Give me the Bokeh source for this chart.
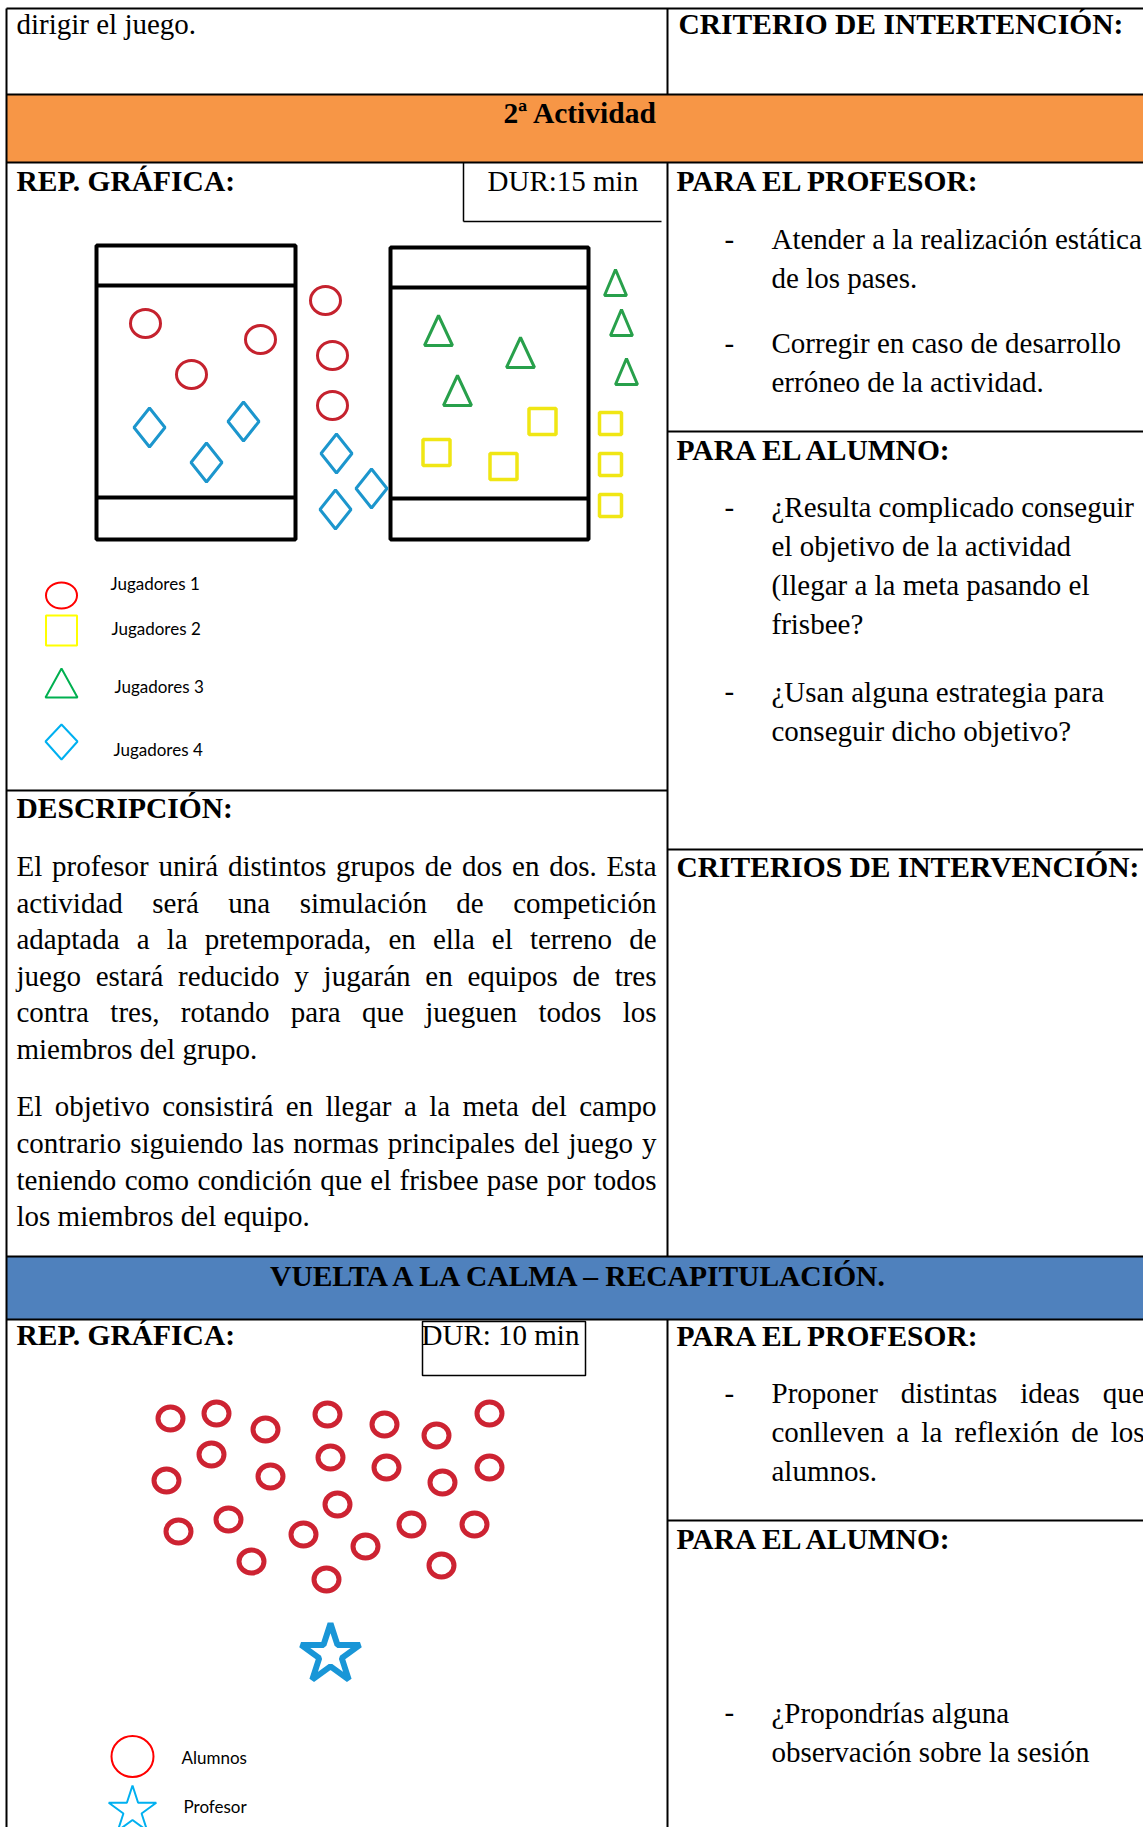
from bokeh.plotting import figure
from bokeh.models import Range1d
from bokeh.core.properties import value
from bokeh.embed import file_html
from bokeh.resources import INLINE

SERIF = "Liberation Serif"
SANS = "Lato"
FS = 29
FS_BOLD = 29.5

# ---------------- texts ----------------
top_left_text = "dirigir el juego."
top_right_title = "CRITERIO DE INTERTENCIÓN:"
band1_title = "2ª Actividad"
band2_title = "VUELTA A LA CALMA – RECAPITULACIÓN."
rep_title = "REP. GRÁFICA:"
dur1_text = "DUR:15 min"
dur2_text = "DUR: 10 min"
prof_title = "PARA EL PROFESOR:"
alum_title = "PARA EL ALUMNO:"
crit_title = "CRITERIOS DE INTERVENCIÓN:"
desc_title = "DESCRIPCIÓN:"

prof_items_1 = [["Atender a la realización estática", "de los pases."],
                ["Corregir en caso de desarrollo", "erróneo de la actividad."]]
alum_items_1 = [["¿Resulta complicado conseguir", "el objetivo de la actividad",
                 "(llegar a la meta pasando el", "frisbee?"],
                ["¿Usan alguna estrategia para", "conseguir dicho objetivo?"]]
desc_par_1 = ["El profesor unirá distintos grupos de dos en dos. Esta",
              "actividad será una simulación de competición",
              "adaptada a la pretemporada, en ella el terreno de",
              "juego estará reducido y jugarán en equipos de tres",
              "contra tres, rotando para que jueguen todos los",
              "miembros del grupo."]
desc_par_2 = ["El objetivo consistirá en llegar a la meta del campo",
              "contrario siguiendo las normas principales del juego y",
              "teniendo como condición que el frisbee pase por todos",
              "los miembros del equipo."]
prof_items_2 = ["Proponer distintas ideas que", "conlleven a la reflexión de los", "alumnos."]
alum_items_2 = ["¿Propondrías alguna", "observación sobre la sesión"]

legend1_labels = ["Jugadores 1", "Jugadores 2", "Jugadores 3", "Jugadores 4"]
legend2_labels = ["Alumnos", "Profesor"]

# ---------------- diagram data (activity 2) ----------------
red_x = [145, 260, 191, 325, 332, 332]
red_y = [323, 339, 374, 300, 355, 405]
blue_x = [149, 243, 206, 336, 371, 335]
blue_y = [427, 421, 462, 453, 488, 509]
green_in_x = [438, 520, 457]
green_in_y = [330, 352, 390]
green_out_x = [615, 621, 626]
green_out_y = [282, 322, 371]
yellow_in_x = [542, 436, 503]
yellow_in_y = [421, 452, 466]
yellow_out_x = [610, 610, 610]
yellow_out_y = [423, 464, 505]

field_left = [96, 390]
field_right = [295, 588]
field_top = [245, 247]
field_bottom = [539, 539]
goal_line_top = [285, 287]
goal_line_bottom = [497, 498]

# ---------------- diagram data (vuelta a la calma) ----------------
alum_x = [170, 216, 265, 327, 384, 436, 489, 211, 166, 270, 330, 386, 442, 489,
          337, 178, 228, 303, 411, 474, 365, 251, 326, 441]
alum_y = [1418, 1413, 1429, 1414, 1424, 1435, 1413, 1454, 1480, 1476, 1457, 1467, 1482, 1467,
          1504, 1531, 1519, 1534, 1524, 1524, 1546, 1561, 1579, 1565]
prof_x = [330]
prof_y = [1654]

p = figure(width=1143, height=1827, x_range=Range1d(0, 1143), y_range=Range1d(1827, 0),
           output_backend="svg", toolbar_location=None, min_border=0,
           x_axis_type=None, y_axis_type=None)
p.outline_line_color = None
p.background_fill_color = "white"
p.border_fill_color = "white"

# Times New Roman advance widths (per 1000 em) for justification
W = {' ': 250, 'a': 444, 'b': 500, 'c': 444, 'd': 500, 'e': 444, 'f': 333, 'g': 500, 'h': 500,
     'i': 278, 'j': 278, 'k': 500, 'l': 278, 'm': 778, 'n': 500, 'o': 500, 'p': 500, 'q': 500,
     'r': 333, 's': 389, 't': 278, 'u': 500, 'v': 500, 'w': 722, 'x': 500, 'y': 500, 'z': 444,
     'á': 444, 'é': 444, 'í': 278, 'ó': 500, 'ú': 500, 'ñ': 500, 'E': 611, 'P': 556,
     ',': 250, '.': 250, '?': 444, '¿': 444}

BASE_SHIFT = 0.38  # renderer places the alphabetic baseline lower; compensate


def put_text(xs, ys, texts, size=FS, bold=False, font=SERIF, align="left", color="#000000"):
    if bold and size == FS:
        size = FS_BOLD
    ys2 = [y - BASE_SHIFT * size for y in ys]
    p.text(x=xs, y=ys2, text=texts, text_font=value(font), text_font_size=f"{size}px",
           text_font_style="bold" if bold else "normal", text_align=align,
           text_baseline="alphabetic", text_color=color)


def justify(line, x0, x1, y):
    words = line.split(" ")
    widths = [sum(W.get(c, 500) for c in w) * FS / 1000 for w in words]
    gap = (x1 - x0 - sum(widths)) / (len(words) - 1)
    xs, x = [], x0
    for w in widths:
        xs.append(x)
        x += w + gap
    put_text(xs[:-1], [y] * (len(words) - 1), words[:-1])
    put_text([x1], [y], [words[-1]], align="right")


# ---------------- bands ----------------
p.quad(left=[6], right=[1143], top=[94], bottom=[162], fill_color="#F79646", line_color=None)
p.quad(left=[6], right=[1143], top=[1256], bottom=[1319], fill_color="#4F81BD", line_color=None)

# ---------------- table lines ----------------
MID = 667
RIGHT = 1143
hx0 = [6, 6, 6, MID, MID, 6, 6, 6, MID]
hx1 = [RIGHT, RIGHT, RIGHT, RIGHT, RIGHT, MID, RIGHT, RIGHT, RIGHT]
hy = [8, 94, 162, 431, 849, 790, 1256, 1319, 1520]
p.segment(x0=hx0, y0=hy, x1=hx1, y1=hy, line_color="black", line_width=2)
vx = [6, MID, MID, MID]
vy0 = [8, 8, 162, 1319]
vy1 = [1827, 94, 1256, 1827]
p.segment(x0=vx, y0=vy0, x1=vx, y1=vy1, line_color="black", line_width=2)

# DUR boxes
p.segment(x0=[463, 463], y0=[162, 221], x1=[463, 661], y1=[221, 221], line_color="black", line_width=1.5)
p.quad(left=[422], right=[585], top=[1321], bottom=[1375], fill_color=None, line_color="black", line_width=1.5)

# ---------------- headers and texts ----------------
put_text([16], [35], [top_left_text])
put_text([678], [35], [top_right_title], bold=True)
put_text([580], [124], [band1_title], bold=True, align="center")
put_text([581], [1287], [band2_title], bold=True, align="center")

put_text([16, 16], [192, 1346], [rep_title, rep_title], bold=True)
put_text([487], [192], [dur1_text])
put_text([421], [1346], [dur2_text])
put_text([676, 676], [192, 1347], [prof_title, prof_title], bold=True)
put_text([676, 676], [461, 1550], [alum_title, alum_title], bold=True)
put_text([676], [878], [crit_title], bold=True)
put_text([16], [819], [desc_title], bold=True)

BUL_X = 724
TXT_X = 771


def bullet_block(lines, y0, ls):
    put_text([BUL_X], [y0], ["-"])
    put_text([TXT_X] * len(lines), [y0 + ls * i for i in range(len(lines))], lines)


bullet_block(prof_items_1[0], 250, 38.5)
bullet_block(prof_items_1[1], 354, 38.5)
bullet_block(alum_items_1[0], 518, 39)
bullet_block(alum_items_1[1], 702.5, 39)
bullet_block(alum_items_2, 1723.5, 39)

# bottom professor item (justified)
put_text([BUL_X], [1404], ["-"])
justify(prof_items_2[0], TXT_X, 1144, 1404)
justify(prof_items_2[1], TXT_X, 1144, 1443)
put_text([TXT_X], [1482], [prof_items_2[2]])

# description paragraphs (justified)
DLS = 36.6
for i, line in enumerate(desc_par_1):
    y = 876.5 + DLS * i
    if i < len(desc_par_1) - 1:
        justify(line, 16, 656, y)
    else:
        put_text([16], [y], [line])
for i, line in enumerate(desc_par_2):
    y = 1117 + DLS * i
    if i < len(desc_par_2) - 1:
        justify(line, 16, 656, y)
    else:
        put_text([16], [y], [line])

# ---------------- fields ----------------
p.quad(left=field_left, right=field_right, top=field_top, bottom=field_bottom,
       fill_color=None, line_color="black", line_width=4)
p.segment(x0=field_left + field_left, y0=goal_line_top + goal_line_bottom,
          x1=field_right + field_right, y1=goal_line_top + goal_line_bottom,
          line_color="black", line_width=4)

# players
p.ellipse(x=red_x, y=red_y, width=30, height=28, fill_color=None, line_color="#C5222E", line_width=3)
DW, DH = 15.5, 19.5
p.patches(xs=[[x, x + DW, x, x - DW] for x in blue_x],
          ys=[[y - DH, y, y + DH, y] for y in blue_y],
          fill_color=None, line_color="#1C96CD", line_width=3)


def triangles(xs_c, ys_c, hw, hh):
    p.patches(xs=[[x, x + hw, x - hw] for x in xs_c],
              ys=[[y - hh, y + hh, y + hh] for y in ys_c],
              fill_color=None, line_color="#28A04B", line_width=3)


triangles(green_in_x, green_in_y, 14, 15)
triangles(green_out_x, green_out_y, 11, 13)
p.rect(x=yellow_in_x, y=yellow_in_y, width=27, height=26, fill_color=None, line_color="#F0E614", line_width=3.5)
p.rect(x=yellow_out_x, y=yellow_out_y, width=22, height=22, fill_color=None, line_color="#F0E614", line_width=3.5)

# legend 1
LX = 61
p.ellipse(x=[LX], y=[595], width=31, height=26, fill_color=None, line_color="#FF0000", line_width=2)
p.rect(x=[LX], y=[630], width=31, height=30, fill_color=None, line_color="#FFFF00", line_width=2)
p.patches(xs=[[LX, LX + 16, LX - 16]], ys=[[668, 697, 697]], fill_color=None, line_color="#00B050", line_width=2)
p.patches(xs=[[LX, LX + 16, LX, LX - 16]], ys=[[724, 741, 759, 741]], fill_color=None, line_color="#00B0F0", line_width=2)
put_text([110, 111, 114, 113], [589, 634, 692, 755], legend1_labels, size=17, font=SANS)

# vuelta a la calma
p.ellipse(x=alum_x, y=alum_y, width=25, height=23, fill_color=None, line_color="#CD2332", line_width=5)
p.scatter(x=prof_x, y=prof_y, marker="star", size=62, fill_color="white", line_color="#1996D7", line_width=6)

# legend 2
p.ellipse(x=[132], y=[1756], width=42, height=41, fill_color=None, line_color="#FF0000", line_width=2)
p.scatter(x=[132], y=[1810], marker="star", size=50, fill_color=None, line_color="#00B0F0", line_width=2)
put_text([181, 183], [1763, 1812], legend2_labels, size=17, font=SANS)

open("out.html", "w").write(file_html(p, INLINE))
